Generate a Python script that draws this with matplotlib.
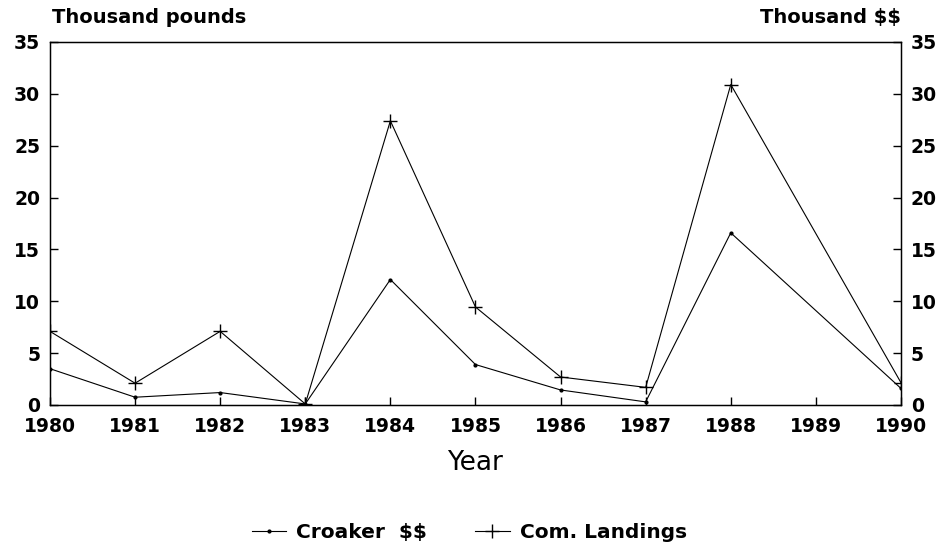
import matplotlib
matplotlib.use("Agg")
import matplotlib.pyplot as plt

years = [1980, 1981, 1982, 1983, 1984, 1985, 1986, 1987, 1988, 1990]
croaker_dollars = [3.5, 0.75, 1.2, 0.1, 12.1, 3.9, 1.45, 0.3, 16.6, 1.6]
com_landings = [7.1, 2.1, 7.1, 0.1, 27.4, 9.45, 2.7, 1.7, 30.9, 2.15]
xticks = list(range(1980, 1991))
yticks = [0, 5, 10, 15, 20, 25, 30, 35]

plt.rcParams["font.family"] = ["DejaVu Sans"]
plt.rcParams["font.weight"] = "bold"
plt.rcParams["text.parse_math"] = False

fig = plt.figure(figsize=(9.48, 5.49), dpi=100)
ax = fig.add_axes([0.0527, 0.2623, 0.8977, 0.6612])

l1, = ax.plot(years, croaker_dollars, color="black", lw=0.8, marker=".", ms=4, label="Croaker  $$")
l2, = ax.plot(years, com_landings, color="black", lw=0.8, marker="+", ms=9.5, mew=1.0, label="Com. Landings")

ax.set_xlim(1980, 1990)
ax.set_ylim(0, 35)
ax.set_xticks(xticks)
ax.set_yticks(yticks)
ax.tick_params(axis="both", direction="in", length=5.5, width=1, labelsize=13.5)
ax.tick_params(axis="y", pad=7)
ax.tick_params(axis="x", pad=9)
for s in ax.spines.values():
    s.set_linewidth(1.0)

ax2 = ax.twinx()
ax2.set_ylim(0, 35)
ax2.set_yticks(yticks)
ax2.tick_params(axis="y", direction="in", length=5.5, width=1, labelsize=13.5, pad=7)

ax.text(0.002, 1.052, "Thousand pounds", transform=ax.transAxes, fontsize=14, ha="left", va="baseline", fontweight="bold")
ax.text(1.0, 1.052, "Thousand $$", transform=ax.transAxes, fontsize=14, ha="right", va="baseline", fontweight="bold")
ax.set_xlabel("Year", fontsize=19, fontweight="normal", labelpad=10)

fig.legend(handles=[l1, l2], loc="center", bbox_to_anchor=(0.495, 0.03), ncol=2,
           frameon=False, fontsize=14.5, handlelength=1.7, columnspacing=2.4, handletextpad=0.5)

fig.savefig("out.png", dpi=100)
